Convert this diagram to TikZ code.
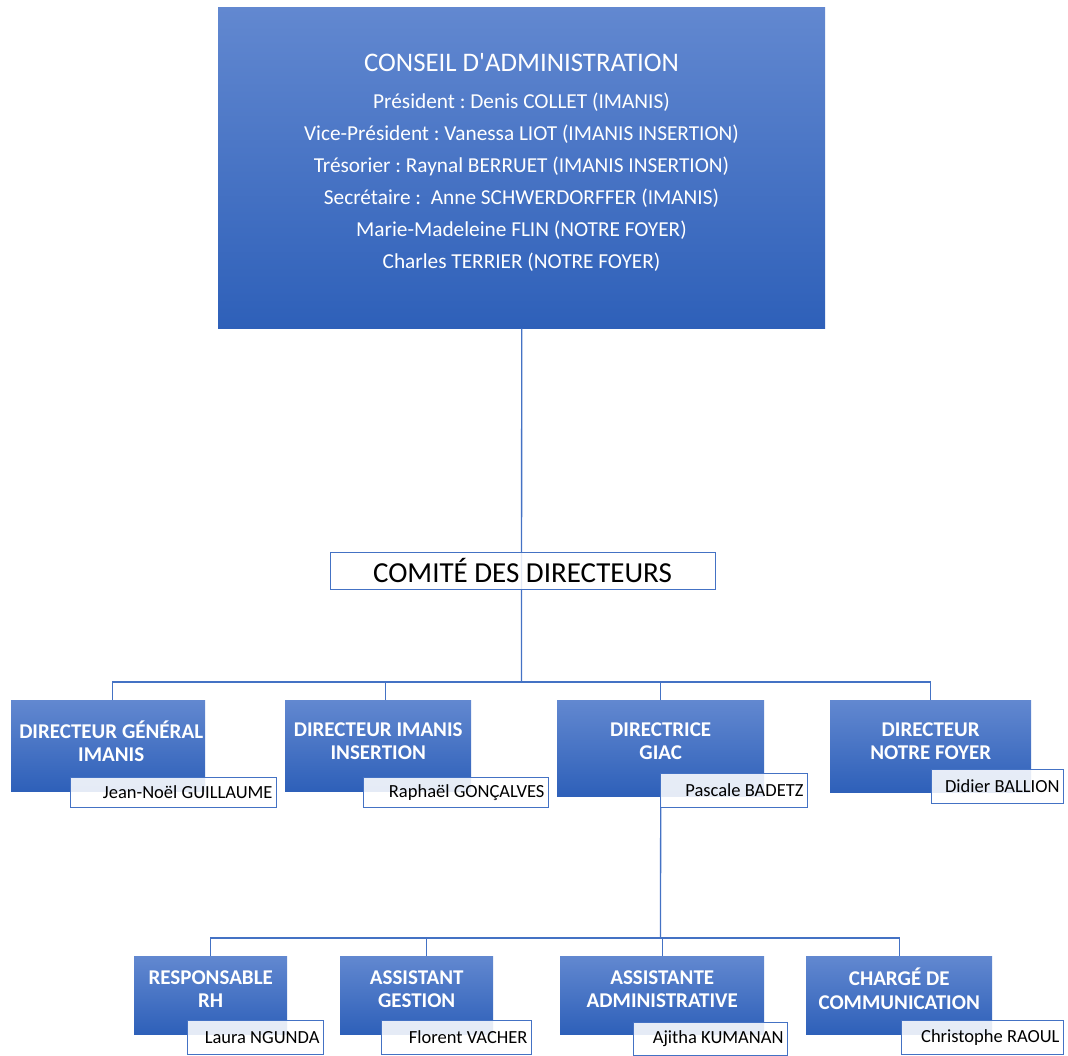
\documentclass[tikz,border=0pt]{standalone}
\usepackage{fontspec}
\setmainfont{Carlito}
\definecolor{lineblue}{RGB}{68,114,196}
\definecolor{topblue}{RGB}{98,136,208}
\definecolor{botblue}{RGB}{46,96,185}
\tikzset{
  bluebox/.style={draw=none, top color=topblue, bottom color=botblue, inner sep=0pt, anchor=north west},
  namebox/.style={draw=lineblue, line width=1pt, fill=white, fill opacity=0.88, text opacity=1,
    inner xsep=4pt, inner ysep=0pt, align=flush right, anchor=north west, text=black,
    font=\fontsize{18.5}{20}\selectfont},
  conn/.style={draw=lineblue, line width=1.3pt},
  rolet/.style={text=white, font=\fontsize{21}{23.5}\selectfont\bfseries, align=center},
}
\begin{document}
\frenchspacing
\begin{tikzpicture}[x=1pt,y=-1pt]
\useasboundingbox (0,0) rectangle (1068,1056);

\coordinate (b1) at (521.5,682);
\coordinate (b2) at (660.5,938);

\node[bluebox, minimum width=607pt, minimum height=321pt] (ca) at (218,7) {};
\draw[conn] (ca.south) -- (b1);

% level 2 boxes
\node[bluebox, minimum width=194pt, minimum height=91pt] (d1) at (11,700) {};
\node[bluebox, minimum width=186pt, minimum height=91pt] (d2) at (285,700) {};
\node[bluebox, minimum width=207pt, minimum height=96pt] (d3) at (557,700) {};
\node[bluebox, minimum width=201pt, minimum height=92pt] (d4) at (830,700) {};

\draw[conn] ([xshift=4pt]d1.north) |- (b1) -| (d4.north);
\draw[conn] ([xshift=7pt]d2.north) -- ([xshift=7pt]d2.north |- b1);
\draw[conn] (d3.north) -- (d3.north |- b1);

% level 3 boxes
\node[bluebox, minimum width=153pt, minimum height=78pt] (e1) at (134,956) {};
\node[bluebox, minimum width=153pt, minimum height=78pt] (e2) at (340,956) {};
\node[bluebox, minimum width=204pt, minimum height=78pt] (e3) at (560,956) {};
\node[bluebox, minimum width=186pt, minimum height=78pt] (e4) at (806,956) {};

\draw[conn] (d3.south) -- (b2);
\draw[conn] (e1.north) |- (b2) -| (e4.north);
\draw[conn] ([xshift=10pt]e2.north) -- ([xshift=10pt]e2.north |- b2);
\draw[conn] (e3.north) -- (e3.north |- b2);

% comité
\node[draw=lineblue, line width=1pt, fill=white, fill opacity=0.85, text opacity=1,
  minimum width=385pt, minimum height=37pt, inner sep=0pt,
  font=\fontsize{29}{30}\selectfont] (cd) at (522.5,570.5) {COMITÉ DES DIRECTEURS};

% CA text
\node[text=white, align=center, font=\fontsize{21.3}{32}\selectfont] (catext) at (521.5,162)
  {{\fontsize{26.8}{32}\selectfont CONSEIL D\textquotesingle ADMINISTRATION}\\[5pt]
   Président : Denis COLLET (IMANIS)\\
   Vice-Président : Vanessa LIOT (IMANIS INSERTION)\\
   Trésorier : Raynal BERRUET (IMANIS INSERTION)\\
   Secrétaire :\ \ Anne SCHWERDORFFER (IMANIS)\\
   Marie-Madeleine FLIN (NOTRE FOYER)\\
   Charles TERRIER (NOTRE FOYER)};

% role texts level 2
\node[rolet] (t1) at ([xshift=3pt]d1.center |- 0,741) {DIRECTEUR GÉNÉRAL\\IMANIS};
\node[rolet] (t2) at (d2.center |- 0,741) {DIRECTEUR IMANIS\\INSERTION};
\node[rolet] (t3) at (d3.center |- 0,741) {DIRECTRICE\\GIAC};
\node[rolet] (t4) at (d4.center |- 0,741) {DIRECTEUR\\NOTRE FOYER};

% role texts level 3
\node[rolet] (u1) at (e1.center |- 0,989) {RESPONSABLE\\RH};
\node[rolet] (u2) at (e2.center |- 0,989) {ASSISTANT\\GESTION};
\node[rolet] (u3) at (e3.center |- 0,989) {ASSISTANTE\\ADMINISTRATIVE};
\node[rolet] (u4) at (e4.center |- 0,989) {CHARGÉ DE\\COMMUNICATION};

% name boxes level 2
\node[namebox, text width=198pt, minimum height=30pt] (n1) at (70,777) {Jean-Noël GUILLAUME};
\node[namebox, text width=177pt, minimum height=30pt] (n2) at (363,777) {Raphaël GONÇALVES};
\node[namebox, text width=139pt, minimum height=34pt] (n3) at (660,773) {Pascale BADETZ};
\node[namebox, text width=124pt, minimum height=34pt] (n4) at (931,769) {Didier BALLION};

% name boxes level 3
\node[namebox, text width=128pt, minimum height=34pt] (m1) at (187,1020) {Laura NGUNDA};
\node[namebox, text width=142pt, minimum height=34pt] (m2) at (381,1020) {Florent VACHER};
\node[namebox, text width=146pt, minimum height=33pt] (m3) at (633,1022) {Ajitha KUMANAN};
\node[namebox, text width=154pt, minimum height=34pt] (m4) at (901,1020) {Christophe RAOUL};
\end{tikzpicture}
\end{document}
